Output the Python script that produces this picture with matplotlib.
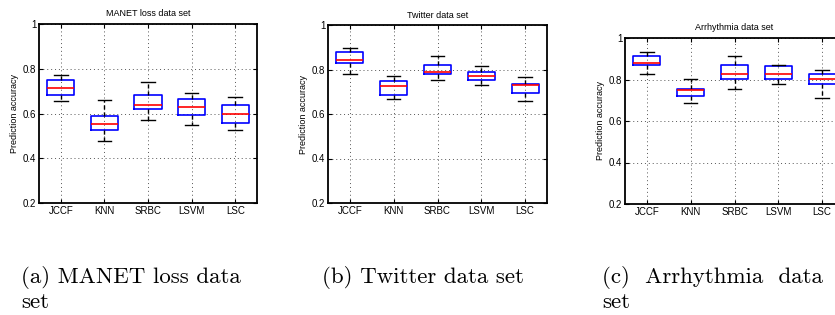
import matplotlib
matplotlib.use("Agg")
import matplotlib.pyplot as plt

W, H = 835, 315
methods = ["JCCF", "KNN", "SRBC", "LSVM", "LSC"]

# (lower whisker, q1, median, q3, upper whisker)
manet_low = [0.654, 0.478, 0.570, 0.548, 0.525]
manet_q1 = [0.681, 0.525, 0.618, 0.593, 0.558]
manet_med = [0.715, 0.555, 0.637, 0.631, 0.600]
manet_q3 = [0.749, 0.591, 0.684, 0.667, 0.636]
manet_high = [0.772, 0.660, 0.740, 0.690, 0.675]

twitter_low = [0.782, 0.666, 0.755, 0.729, 0.660]
twitter_q1 = [0.829, 0.684, 0.780, 0.753, 0.695]
twitter_med = [0.842, 0.725, 0.789, 0.770, 0.731]
twitter_q3 = [0.880, 0.747, 0.820, 0.787, 0.735]
twitter_high = [0.896, 0.770, 0.862, 0.815, 0.765]

arr_low = [0.827, 0.688, 0.756, 0.778, 0.711]
arr_q1 = [0.868, 0.719, 0.801, 0.801, 0.778]
arr_med = [0.881, 0.749, 0.825, 0.825, 0.801]
arr_q3 = [0.915, 0.756, 0.870, 0.865, 0.828]
arr_high = [0.934, 0.801, 0.913, 0.870, 0.846]

titles = ["MANET loss data set", "Twitter data set", "Arrhythmia data set"]
captions = [["(a) MANET loss data", "set"],
            ["(b) Twitter data set"],
            ["(c)  Arrhythmia  data", "set"]]
yticks = [0.2, 0.4, 0.6, 0.8, 1.0]
yticklabels = ["0.2", "0.4", "0.6", "0.8", "1"]

datasets = [
    (manet_low, manet_q1, manet_med, manet_q3, manet_high),
    (twitter_low, twitter_q1, twitter_med, twitter_q3, twitter_high),
    (arr_low, arr_q1, arr_med, arr_q3, arr_high),
]

# axes boxes in pixels: left, top, right, bottom
boxes = [(39, 24, 257, 203), (328, 25, 547, 203), (625, 38, 844, 204)]
title_y = [14, 16, 27]
cap_x = [21, 322, 602]
cap_baselines = [283, 308]

fig = plt.figure(figsize=(W / 100, H / 100), dpi=100)
fig.patch.set_facecolor("white")
sans = ["Liberation Sans", "DejaVu Sans"]

for i, (data, (l, t, r, b)) in enumerate(zip(datasets, boxes)):
    ax = fig.add_axes([l / W, 1 - b / H, (r - l) / W, (b - t) / H])
    low, q1, med, q3, high = data
    stats = []
    for j, m in enumerate(methods):
        stats.append(dict(label=m, whislo=low[j], q1=q1[j], med=med[j],
                          q3=q3[j], whishi=high[j], fliers=[]))
    ax.bxp(stats, positions=range(1, 6), widths=0.62, showfliers=False,
           boxprops=dict(color="#0000ff", linewidth=1.2),
           medianprops=dict(color="#ff0000", linewidth=1.2),
           whiskerprops=dict(color="black", linewidth=1.0, linestyle=(0, (3, 2))),
           capprops=dict(color="black", linewidth=1.0))
    ax.set_xlim(0.5, 5.5)
    ax.set_ylim(0.2, 1.0)
    ax.set_yticks(yticks)
    ax.set_yticklabels(yticklabels, fontsize=7, family=sans)
    ax.set_xticks(range(1, 6))
    ax.set_xticklabels(methods, fontsize=7, family=sans)
    ax.grid(True, linestyle=(0, (1, 3)), color="#555555", linewidth=0.7)
    ax.set_axisbelow(True)
    ax.tick_params(direction="in", length=3, width=0.8, top=True, right=True, pad=2)
    for s in ax.spines.values():
        s.set_linewidth(1.3)
    ax.set_ylabel("Prediction accuracy", fontsize=6.5, family=sans, labelpad=3)
    fig.text((l + r) / 2 / W, 1 - title_y[i] / H, titles[i], ha="center",
             va="center", fontsize=6.5, family=sans)
    for k, line in enumerate(captions[i]):
        fig.text(cap_x[i] / W, 1 - cap_baselines[k] / H, line, ha="left",
                 va="baseline", fontsize=16.5, family=["cmr10", "DejaVu Serif"])

fig.savefig("out.png", dpi=100)
